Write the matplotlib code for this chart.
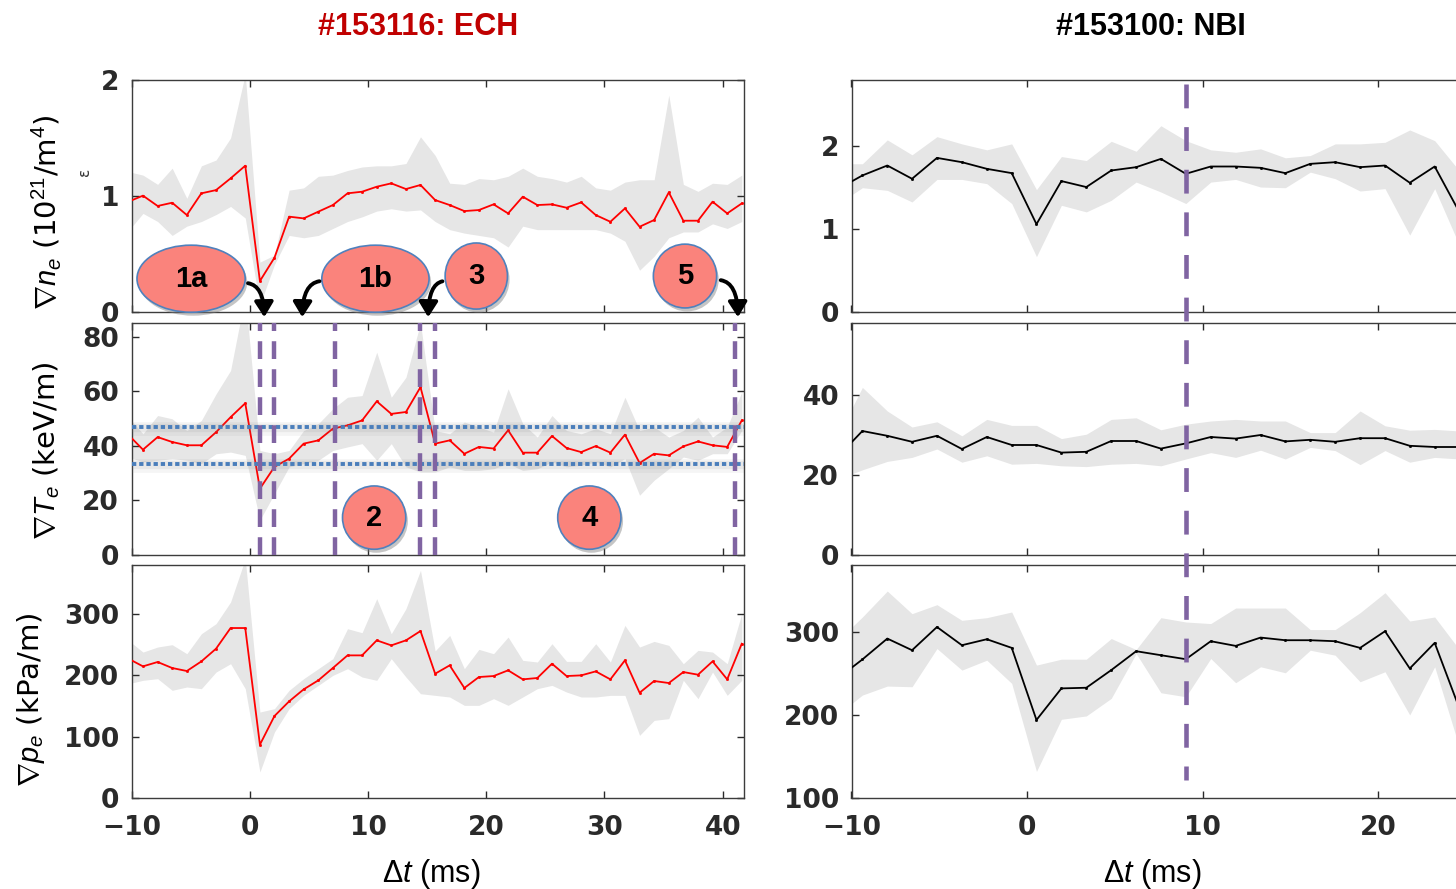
import numpy as np
import matplotlib
matplotlib.use("Agg")
import matplotlib.pyplot as plt
from matplotlib import font_manager, transforms
from matplotlib.patches import Ellipse, FancyArrowPatch
from matplotlib.lines import Line2D
import matplotlib.patheffects as pe

# ---------------- data ----------------
# ECH discharge #153116 (time relative to event, ms)
t_ech = [-10.26, -9.03, -7.79, -6.56, -5.32, -4.09, -2.85, -1.62, -0.38, 0.86,
         2.09, 3.33, 4.56, 5.80, 7.03, 8.27, 9.50, 10.74, 11.97, 13.21,
         14.44, 15.68, 16.91, 18.15, 19.38, 20.62, 21.85, 23.09, 24.32, 25.56,
         26.79, 28.03, 29.26, 30.50, 31.73, 32.97, 34.20, 35.44, 36.67, 37.91,
         39.14, 40.38, 41.61]

ne_ech = [0.951, 1.003, 0.914, 0.942, 0.836, 1.023, 1.051, 1.152, 1.261, 0.267,
          0.468, 0.822, 0.807, 0.865, 0.922, 1.023, 1.037, 1.080, 1.109, 1.060,
          1.095, 0.965, 0.922, 0.870, 0.879, 0.928, 0.850, 0.994, 0.922, 0.928,
          0.899, 0.945, 0.836, 0.778, 0.893, 0.735, 0.793, 1.031, 0.787, 0.787,
          0.951, 0.850, 0.936]
ne_ech_lo = [0.70, 0.85, 0.78, 0.66, 0.74, 0.78, 0.84, 0.91, 0.81, 0.06,
             0.41, 0.66, 0.64, 0.66, 0.72, 0.78, 0.82, 0.87, 0.89, 0.87,
             0.88, 0.78, 0.71, 0.68, 0.66, 0.64, 0.56, 0.74, 0.71, 0.71,
             0.71, 0.71, 0.71, 0.68, 0.61, 0.36, 0.48, 0.64, 0.69, 0.69,
             0.76, 0.72, 0.78]
ne_ech_hi = [1.21, 1.18, 1.10, 1.24, 0.98, 1.26, 1.31, 1.50, 2.05, 0.43,
             0.49, 1.05, 1.07, 1.17, 1.18, 1.22, 1.25, 1.26, 1.26, 1.28,
             1.51, 1.35, 1.11, 1.10, 1.15, 1.14, 1.17, 1.24, 1.17, 1.15,
             1.12, 1.17, 1.07, 1.05, 1.12, 1.14, 1.14, 1.87, 1.10, 1.04,
             1.11, 1.10, 1.18]

te_ech = [44.0, 38.6, 43.2, 41.4, 40.2, 40.2, 45.0, 50.5, 55.6, 24.3,
          32.3, 35.3, 40.8, 42.0, 46.3, 47.5, 49.3, 56.3, 51.7, 52.4,
          61.5, 40.8, 42.0, 37.1, 39.6, 39.0, 45.7, 37.5, 37.5, 43.6,
          39.2, 37.7, 39.9, 37.5, 44.1, 33.7, 37.1, 36.5, 39.8, 41.6,
          40.2, 39.6, 49.3]
te_ech_lo = [35.9, 34.1, 34.7, 35.3, 34.7, 33.5, 37.1, 37.7, 36.5, 12.8,
             22.5, 32.3, 33.5, 34.7, 38.3, 39.6, 40.8, 34.7, 40.8, 32.3,
             30.4, 30.4, 32.3, 31.0, 31.0, 31.6, 33.5, 31.0, 31.6, 34.1,
             32.3, 32.9, 34.1, 32.3, 35.3, 21.9, 27.4, 31.6, 35.9, 34.7,
             37.1, 37.1, 45.6]
te_ech_hi = [50.5, 44.4, 51.1, 49.9, 45.6, 49.3, 59.0, 67.6, 95.0, 38.3,
             37.1, 38.3, 45.6, 48.1, 53.6, 57.8, 58.4, 74.3, 57.8, 65.1,
             85.0, 45.6, 44.4, 48.7, 46.9, 45.0, 60.9, 48.1, 43.2, 51.1,
             45.6, 44.4, 46.3, 44.4, 57.8, 45.6, 46.9, 43.2, 45.6, 50.5,
             43.2, 46.9, 59.7]

pe_ech = [227.2, 214.7, 221.8, 212.0, 207.1, 222.8, 243.5, 277.2, 277.2, 87.0,
          133.7, 157.6, 177.2, 191.9, 212.0, 232.6, 232.6, 257.1, 248.9, 257.1,
          272.3, 202.7, 216.3, 179.4, 197.3, 198.9, 208.2, 193.5, 195.7, 219.0,
          198.9, 200.0, 206.5, 193.5, 224.5, 171.7, 190.8, 187.5, 205.4, 201.1,
          222.8, 193.5, 251.6]
pe_ech_lo = [186.4, 191.9, 194.6, 175.6, 181.0, 178.3, 205.4, 219.0, 178.3, 42.4,
             107.6, 145.7, 167.4, 183.7, 200.0, 210.9, 197.3, 191.9, 227.2, 197.3,
             170.1, 167.4, 164.7, 151.1, 151.1, 162.0, 151.1, 164.7, 178.3, 183.7,
             172.8, 164.7, 164.7, 167.4, 167.4, 102.2, 126.6, 129.4, 191.9, 162.0,
             205.4, 167.4, 191.9]
pe_ech_hi = [257.1, 238.0, 246.2, 250.0, 235.3, 267.9, 284.3, 319.6, 390.0, 140.2,
             145.7, 175.6, 194.6, 210.9, 227.2, 276.1, 269.6, 325.0, 267.9, 308.7,
             371.2, 240.0, 265.2, 210.9, 242.4, 235.3, 262.5, 224.5, 221.8, 251.6,
             222.8, 222.8, 251.6, 221.8, 281.5, 246.2, 255.4, 248.9, 219.0, 240.8,
             238.0, 219.0, 300.6]

# NBI discharge #153100
t_nbi = [-10.80, -9.38, -7.96, -6.55, -5.13, -3.71, -2.29, -0.87, 0.54, 1.96,
         3.38, 4.80, 6.22, 7.63, 9.05, 10.47, 11.89, 13.31, 14.72, 16.14,
         17.56, 18.98, 20.40, 21.81, 23.23, 24.65]

ne_nbi = [1.48, 1.648, 1.768, 1.608, 1.86, 1.808, 1.728, 1.676, 1.06, 1.58,
          1.508, 1.708, 1.748, 1.848, 1.668, 1.756, 1.756, 1.74, 1.676, 1.788,
          1.808, 1.748, 1.768, 1.56, 1.756, 1.20]
ne_nbi_lo = [1.30, 1.50, 1.468, 1.328, 1.60, 1.60, 1.549, 1.309, 0.668, 1.288,
             1.208, 1.348, 1.568, 1.448, 1.309, 1.568, 1.60, 1.508, 1.50, 1.688,
             1.609, 1.46, 1.489, 0.928, 1.489, 0.80]
ne_nbi_hi = [1.79, 1.789, 2.077, 1.897, 2.116, 2.029, 1.957, 2.029, 1.477, 1.876,
             1.828, 2.06, 1.94, 2.248, 2.068, 1.957, 1.928, 1.969, 1.861, 1.888,
             2.029, 2.029, 2.048, 2.197, 2.068, 1.70]

te_nbi = [24.5, 31.0, 29.8, 28.3, 29.8, 26.5, 29.5, 27.5, 27.5, 25.6,
          25.8, 28.5, 28.5, 26.6, 27.9, 29.5, 29.1, 30.0, 28.4, 28.8,
          28.3, 29.2, 29.2, 27.3, 27.0, 27.0]
te_nbi_lo = [18.9, 21.3, 23.4, 24.4, 26.5, 23.2, 24.8, 22.7, 22.9, 22.3,
             22.1, 22.7, 22.9, 22.3, 24.0, 25.6, 24.4, 26.2, 24.0, 26.9,
             26.1, 22.6, 26.1, 23.2, 24.4, 24.0]
te_nbi_hi = [29.6, 41.9, 36.0, 32.0, 33.3, 29.8, 33.9, 32.4, 32.4, 29.1,
             30.2, 33.9, 34.3, 31.3, 32.7, 33.5, 33.9, 33.5, 33.5, 30.6,
             30.6, 36.0, 32.3, 31.2, 31.4, 31.0]

pe_nbi = [243.4, 266.5, 291.6, 277.6, 305.5, 283.6, 290.8, 280.4, 193.8, 231.7,
          232.5, 253.7, 276.4, 271.6, 266.8, 288.4, 282.8, 292.8, 289.6, 289.6,
          288.4, 280.4, 300.4, 255.7, 286.4, 207.0]
pe_nbi_lo = [199.8, 223.7, 234.5, 233.7, 279.6, 253.7, 265.6, 237.7, 131.9, 194.6,
             198.6, 219.7, 273.6, 226.5, 221.7, 267.6, 238.5, 257.7, 250.5, 277.6,
             271.6, 239.7, 251.7, 199.8, 257.7, 160.0]
pe_nbi_hi = [288.8, 317.5, 348.7, 321.5, 332.3, 313.5, 316.7, 323.5, 259.7, 266.8,
             266.8, 291.6, 278.4, 316.7, 311.5, 309.6, 328.3, 328.3, 328.3, 302.4,
             302.4, 322.7, 346.7, 312.7, 317.5, 278.0]

# phase boundaries (ms) and reference band of grad Te (keV/m)
ech_events = [0.86, 2.09, 7.2, 14.44, 15.68, 41.0]
nbi_event = 9.05
te_band = [33.3, 46.8]

# ---------------- style ----------------
names = {f.name for f in font_manager.fontManager.ttflist}
NARROW = 'Liberation Sans Narrow' if 'Liberation Sans Narrow' in names else 'Liberation Sans'

plt.rcParams['mathtext.fontset'] = 'custom'
plt.rcParams['mathtext.rm'] = 'Liberation Sans'
plt.rcParams['mathtext.it'] = 'Liberation Sans:italic'
plt.rcParams['mathtext.bf'] = 'Liberation Sans:bold'

TICK_C = '#2a2a2a'
BAND_C = '#e6e6e6'
PURPLE = '#8064a2'
SALMON = '#fa837c'
EDGE_B = '#4f81bd'

W, H = 1456, 889
fig = plt.figure(figsize=(W / 100, H / 100), dpi=100)


def rect(x0, x1, y0, y1):
    return [x0 / W, 1 - y1 / H, (x1 - x0) / W, (y1 - y0) / H]


rows = [(80, 312), (323, 555), (565, 798)]
axL = [fig.add_axes(rect(131.5, 744, *r)) for r in rows]
axR = [fig.add_axes(rect(851.5, 1553.5, *r)) for r in rows]


def style(ax, xticks, yticks, xlabels):
    ax.set_xticks(xticks)
    ax.set_yticks(yticks)
    ax.tick_params(direction='in', length=5, width=1, top=True, right=True,
                   labelsize=19, colors=TICK_C)
    ax.tick_params(axis='y', pad=9)
    ax.tick_params(axis='x', pad=12)
    for lbl in ax.get_xticklabels() + ax.get_yticklabels():
        lbl.set_fontweight('bold')
        lbl.set_family('DejaVu Sans')
    if not xlabels:
        ax.tick_params(labelbottom=False)
    for s in ax.spines.values():
        s.set_color('#3c3c3c')
        s.set_linewidth(1.0)


def series(ax, t, y, lo, hi, color):
    ax.fill_between(t, lo, hi, color=BAND_C, lw=0, zorder=1)
    ax.plot(t, y, color=color, lw=1.3, marker='s', ms=1.0, zorder=3)


# left column: ECH
series(axL[0], t_ech, ne_ech, ne_ech_lo, ne_ech_hi, '#ff0000')
series(axL[1], t_ech, te_ech, te_ech_lo, te_ech_hi, '#ff0000')
series(axL[2], t_ech, pe_ech, pe_ech_lo, pe_ech_hi, '#ff0000')
for ax, yl in zip(axL, [(0, 2), (0, 85), (0, 380)]):
    ax.set_xlim(-10, 41.8)
    ax.set_ylim(*yl)
style(axL[0], [-10, 0, 10, 20, 30, 40], [0, 1, 2], False)
style(axL[1], [-10, 0, 10, 20, 30, 40], [0, 20, 40, 60, 80], False)
style(axL[2], [-10, 0, 10, 20, 30, 40], [0, 100, 200, 300], True)

# right column: NBI
series(axR[0], t_nbi, ne_nbi, ne_nbi_lo, ne_nbi_hi, 'black')
series(axR[1], t_nbi, te_nbi, te_nbi_lo, te_nbi_hi, 'black')
series(axR[2], t_nbi, pe_nbi, pe_nbi_lo, pe_nbi_hi, 'black')
for ax, yl in zip(axR, [(0, 2.8), (0, 58), (100, 380)]):
    ax.set_xlim(-10, 30)
    ax.set_ylim(*yl)
style(axR[0], [-10, 0, 10, 20], [0, 1, 2], False)
style(axR[1], [-10, 0, 10, 20], [0, 20, 40], False)
style(axR[2], [-10, 0, 10, 20], [100, 200, 300], True)

# reference band for grad Te with soft glow
for yv in te_band:
    for lw, a, dy in [(10, 0.07, -0.6), (6, 0.10, -0.4)]:
        axL[1].axhline(yv + dy, color='#7a7a7a', lw=lw, alpha=a, zorder=4,
                       solid_capstyle='butt')
    axL[1].axhline(yv, color='#4a7ebb', lw=2.8, ls=(0, (1.1, 0.75)), zorder=5)

# phase boundaries
for tv in ech_events:
    axL[1].axvline(tv, color=PURPLE, lw=3.2, ls=(0, (4.0, 2.3)), zorder=6)

blend = transforms.blended_transform_factory(axR[2].transData, fig.transFigure)
fig.add_artist(Line2D([nbi_event, nbi_event], [1 - 84 / H, 1 - 780 / H], transform=blend,
                      color=PURPLE, lw=3.3, ls=(0, (5.2, 4.1)), zorder=6))

# labels
ylab_kw = dict(fontsize=21, color='black')
axL[0].set_ylabel(r'$\nabla n_e$ (10$^{21}$/m$^4$)', **ylab_kw)
axL[1].set_ylabel(r'$\nabla T_e$ (keV/m)', **ylab_kw)
axL[2].set_ylabel(r'$\nabla p_e$ (kPa/m)', **ylab_kw)
axL[0].yaxis.set_label_coords(-0.112, 0.43)
axL[1].yaxis.set_label_coords(-0.113, 0.45)
axL[2].yaxis.set_label_coords(-0.138, 0.42)

for ax, xc in [(axL[2], 0.49), (axR[2], 0.428)]:
    ax.set_xlabel(r'$\Delta t$ (ms)', fontsize=22, family=NARROW)
    ax.xaxis.set_label_coords(xc, -0.255)

fig.text(418 / W, 1 - 27 / H, '#153116: ECH', color='#c00000', fontsize=22,
         fontweight='bold', family='Liberation Sans', ha='center', va='center')
fig.text(1151 / W, 1 - 27 / H, '#153100: NBI', color='black', fontsize=22,
         fontweight='bold', family='Liberation Sans', ha='center', va='center')
fig.text(85 / W, 1 - 172 / H, 'ε', fontsize=11, rotation=90, color='#333333',
         ha='center', va='center')

# phase markers
shadow = [pe.SimplePatchShadow(offset=(1.5, -2.5), shadow_rgbFace='#7f7f7f', alpha=0.45),
          pe.Normal()]
bubbles = [(axL[0], '1a', -4.96, 0.287, 9.15, 0.578),
           (axL[0], '1b', 10.63, 0.287, 9.07, 0.578),
           (axL[0], '3', 19.16, 0.31, 5.27, 0.57),
           (axL[0], '5', 36.81, 0.31, 5.35, 0.55),
           (axL[1], '2', 10.52, 13.7, 5.35, 23.2),
           (axL[1], '4', 28.72, 13.7, 5.35, 23.2)]
for ax, txt, xc, yc, w, h in bubbles:
    e = Ellipse((xc, yc), w, h, transform=ax.transData, facecolor=SALMON,
                edgecolor=EDGE_B, lw=1.2, zorder=20)
    e.set_path_effects(shadow)
    fig.add_artist(e)
    fig.text(xc, yc, txt, transform=ax.transData, ha='center', va='center',
             fontsize=21, fontweight='bold', family=NARROW, color='black', zorder=21)

arrows = [((-0.38, 0.25), (1.23, -0.069)),
          ((6.13, 0.267), (4.44, -0.069)),
          ((16.53, 0.267), (15.09, -0.069)),
          ((39.6, 0.276), (41.29, -0.069))]
for a, b in arrows:
    arr = FancyArrowPatch(a, b, transform=axL[0].transData,
                          connectionstyle='angle3,angleA=0,angleB=90',
                          arrowstyle='-|>,head_length=0.45,head_width=0.28',
                          mutation_scale=20, color='black', lw=2.8, zorder=22)
    fig.add_artist(arr)

fig.savefig('out.png', dpi=100, facecolor='white')
